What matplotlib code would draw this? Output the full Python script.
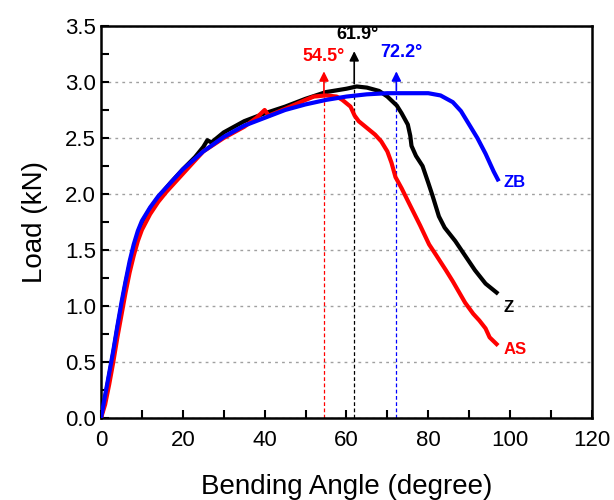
import numpy as np
import matplotlib.pyplot as plt
from matplotlib.ticker import MultipleLocator

plt.rcParams['font.family'] = ['Liberation Sans', 'DejaVu Sans']

# ZB sample
zb_x = [0, 1, 2, 3, 4, 5, 6, 7, 8, 9, 10, 12, 14, 17, 20, 25, 30, 35, 40, 45, 50,
        55, 60, 65, 70, 75, 80, 83, 86, 88, 90, 92, 94, 96, 97]
zb_y = [0, 0.2, 0.4, 0.6, 0.82, 1.03, 1.22, 1.4, 1.55, 1.67, 1.76, 1.88, 1.98, 2.1,
        2.22, 2.38, 2.51, 2.61, 2.68, 2.75, 2.8, 2.84, 2.87, 2.89, 2.9, 2.9, 2.9, 2.88,
        2.82, 2.74, 2.62, 2.5, 2.36, 2.2, 2.13]

# Z sample
z_x = [0, 1, 2, 3, 4, 5, 6, 7, 8, 9, 10, 12, 14, 17, 20, 23, 25, 26, 27, 30, 35, 40,
       45, 50, 55, 60, 62.5, 65, 68, 70, 72.3, 73.5, 75, 75.6, 75.9, 77, 78.6, 80, 81,
       82.6, 84, 86.6, 89, 91.4, 94, 96.7]
z_y = [0, 0.18, 0.38, 0.58, 0.8, 1.0, 1.2, 1.37, 1.52, 1.64, 1.74, 1.87, 1.97, 2.1,
       2.22, 2.33, 2.42, 2.48, 2.46, 2.55, 2.65, 2.72, 2.78, 2.85, 2.91, 2.94, 2.96,
       2.95, 2.92, 2.87, 2.79, 2.72, 2.62, 2.52, 2.43, 2.34, 2.25, 2.1, 1.99, 1.8,
       1.7, 1.58, 1.45, 1.32, 1.2, 1.12]

# AS sample
as_x = [0, 1, 2, 3, 4, 5, 6, 7, 8, 9, 10, 12, 14, 16, 20, 25, 30, 35, 38, 40, 41, 45,
        50, 52, 55, 57.6, 59, 61, 62, 63, 65, 67, 68.5, 70, 71, 72, 73.5, 75.4, 78,
        80.2, 82, 84.3, 86, 89, 91, 92.5, 94, 95, 96.7]
as_y = [0, 0.12, 0.3, 0.5, 0.72, 0.92, 1.12, 1.3, 1.45, 1.58, 1.68, 1.82, 1.93, 2.02,
        2.18, 2.38, 2.5, 2.6, 2.68, 2.75, 2.7, 2.76, 2.84, 2.87, 2.88, 2.87, 2.84,
        2.78, 2.7, 2.65, 2.59, 2.53, 2.47, 2.38, 2.28, 2.15, 2.05, 1.91, 1.72, 1.55,
        1.45, 1.32, 1.22, 1.03, 0.93, 0.87, 0.8, 0.72, 0.66]

# peak angles: (angle, load at peak, arrow tip, label y, label x, colour)
peaks = {
    'AS': (54.5, 2.87, 3.12, 3.23, 54.3, 'red'),
    'Z': (61.9, 2.96, 3.30, 3.42, 62.8, 'black'),
    'ZB': (72.2, 2.90, 3.12, 3.26, 73.5, 'blue'),
}

fig = plt.figure(figsize=(6.14, 5.0), dpi=100)
ax = fig.add_axes([0.1645, 0.164, 0.7995, 0.784])

ax.grid(axis='y', color='#a0a0a0', linestyle=(0, (2, 3)), linewidth=1)
ax.set_axisbelow(True)

ax.plot(z_x, z_y, color='black', lw=3, zorder=3)
ax.plot(as_x, as_y, color='red', lw=3, zorder=3)
ax.plot(zb_x, zb_y, color='blue', lw=3, zorder=3)

for name, (ang, load, tip, ly, lx, c) in peaks.items():
    ax.plot([ang, ang], [0, load], color=c, lw=0.9, linestyle=(0, (3, 2)), zorder=2)
    ax.annotate('', xy=(ang, tip), xytext=(ang, load),
                arrowprops=dict(arrowstyle='-|>', color=c, lw=1.2, mutation_scale=14),
                zorder=4)
    ax.text(lx, ly, f'{ang}°', color=c, fontsize=13, fontweight='bold',
            ha='center', va='center')

ax.text(98.5, 2.1, 'ZB', color='blue', fontsize=12, fontweight='bold', va='center')
ax.text(98.5, 0.99, 'Z', color='black', fontsize=12, fontweight='bold', va='center')
ax.text(98.5, 0.61, 'AS', color='red', fontsize=12, fontweight='bold', va='center')

ax.set_xlim(0, 120)
ax.set_ylim(0, 3.5)
ax.xaxis.set_major_locator(MultipleLocator(20))
ax.xaxis.set_minor_locator(MultipleLocator(10))
ax.yaxis.set_major_locator(MultipleLocator(0.5))
ax.yaxis.set_minor_locator(MultipleLocator(0.25))
ax.yaxis.set_major_formatter(plt.FormatStrFormatter('%.1f'))
ax.tick_params(which='both', direction='in', width=1.5, length=6, labelsize=16)
ax.tick_params(axis='x', pad=9)
for s in ax.spines.values():
    s.set_linewidth(1.8)

ax.set_xlabel('Bending Angle (degree)', fontsize=20, labelpad=16)
ax.set_ylabel('Load (kN)', fontsize=20, labelpad=12)

fig.savefig('out.png', dpi=100)
